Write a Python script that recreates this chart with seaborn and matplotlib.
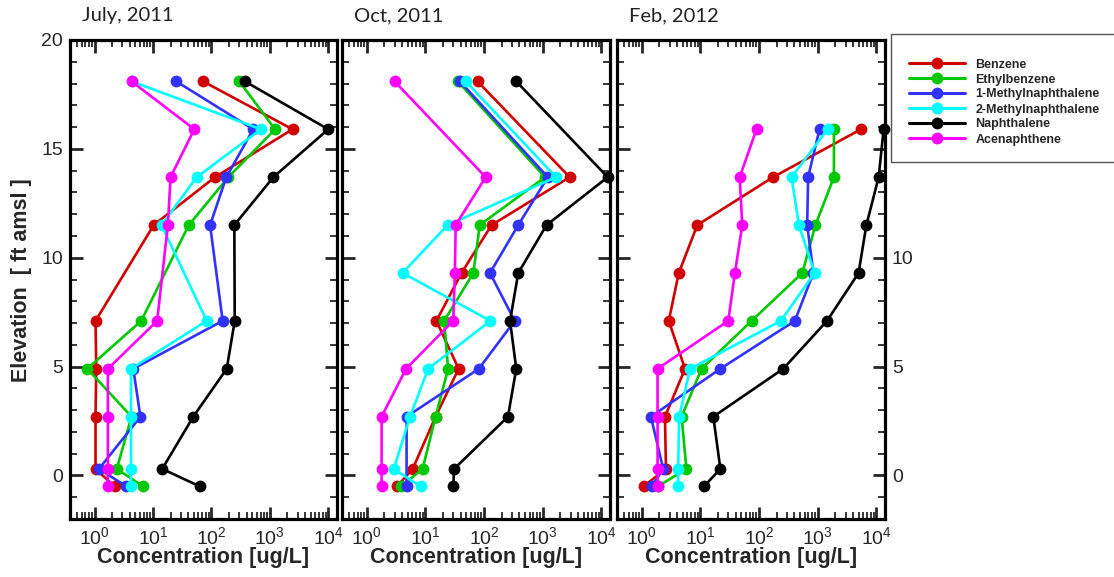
import numpy as np
import pandas as pd
import matplotlib
matplotlib.use("Agg")
import matplotlib.pyplot as plt
from matplotlib.lines import Line2D
from matplotlib.patches import Rectangle
from matplotlib.ticker import (LogLocator, LogFormatterMathtext, MultipleLocator,
                               NullFormatter, FuncFormatter)
import seaborn as sns

# ---- data -------------------------------------------------------------
compounds = ["Benzene", "Ethylbenzene", "1-Methylnaphthalene",
             "2-Methylnaphthalene", "Naphthalene", "Acenaphthene"]
colors = ["#D00000", "#00C800", "#3232FF", "#00FFFF", "#000000", "#FF00FF"]

panel_titles = ["July, 2011", "Oct, 2011", "Feb, 2012"]

# sampling elevations (ft amsl), top to bottom
elev_jul = [18.1, 15.9, 13.7, 11.5, 7.1, 4.9, 2.7, 0.3, -0.5]
elev_oct = [18.1, 13.7, 11.5, 9.3, 7.1, 4.9, 2.7, 0.3, -0.5]
elev_feb = [15.9, 13.7, 11.5, 9.3, 7.1, 4.9, 2.7, 0.3, -0.5]

# concentrations (ug/L); NaN = no sample
jul_benzene      = [72, 2450, 115, 10.3, 1.04, 1.07, 1.04, 1.04, 2.2]
jul_ethylbenzene = [300, 1230, 195, 41, 6.3, 0.75, 4.3, 2.4, 6.8]
jul_1mn          = [25, 520, 180, 95, 156, 4.6, 6.1, 1.19, 3.5]
jul_2mn          = [4.3, 705, 56, 14, 83, 4.2, 4.2, 4.2, 4.2]
jul_naph         = [375, 10000, 1150, 247, 251, 183, 49, 14.4, 63]
jul_acen         = [4.3, 51, 20, 18, 11.8, 1.69, 1.69, 1.69, 1.69]

oct_benzene      = [78, 2900, 135, 41.5, 15.5, 37, 15, 6.1, 3.3]
oct_ethylbenzene = [36, 1100, 85, 66, 21, 24.5, 15, 9.0, 3.9]
oct_1mn          = [39, 1230, 385, 127, 334, 82, 4.8, np.nan, 4.8]
oct_2mn          = [49, 1700, 24, 4.1, 129, 11.2, 5.5, 2.9, 8.3]
oct_naph         = [356, 12900, 1170, 385, 279, 356, 257, 31, 30]
oct_acen         = [3.0, 107, 33, 32, 30, 4.7, 1.8, 1.8, 1.8]

feb_benzene      = [5500, 174, 8.9, 4.3, 2.9, 5.5, 2.5, 2.6, 1.08]
feb_ethylbenzene = [1900, 1900, 920, 550, 75, 10.5, 4.8, 5.8, 1.9]
feb_1mn          = [1080, 690, 665, 850, 410, 22, 1.44, 2.33, 1.5]
feb_2mn          = [1480, 360, 480, 890, 237, 6.7, 4.36, 4.2, 4.2]
feb_naph         = [13400, 11000, 6800, 5000, 1450, 260, 16.7, 22, 11.6]
feb_acen         = [91, 47, 52, 39, 30, 1.87, 1.87, 1.87, 1.87]

campaigns = [
    (elev_jul, [jul_benzene, jul_ethylbenzene, jul_1mn, jul_2mn, jul_naph, jul_acen]),
    (elev_oct, [oct_benzene, oct_ethylbenzene, oct_1mn, oct_2mn, oct_naph, oct_acen]),
    (elev_feb, [feb_benzene, feb_ethylbenzene, feb_1mn, feb_2mn, feb_naph, feb_acen]),
]


def long_table(elev, series):
    rows = []
    for name, vals in zip(compounds, series):
        for z, c in zip(elev, vals):
            if not np.isnan(c):
                rows.append({"compound": name, "elev": z, "conc": c})
    return pd.DataFrame(rows)


# ---- style ------------------------------------------------------------
sns.set_style("ticks")
plt.rcParams["font.family"] = ["Liberation Sans", "DejaVu Sans"]
plt.rcParams["mathtext.fontset"] = "custom"
plt.rcParams["mathtext.rm"] = "Liberation Sans"
plt.rcParams["mathtext.it"] = "Liberation Sans:italic"
plt.rcParams["mathtext.bf"] = "Liberation Sans:bold"

W, H = 1114, 577
fig = plt.figure(figsize=(W / 100, H / 100), dpi=100)

# axes boxes in pixel units: (left, right)
boxes = [(70, 337), (342, 610), (617, 885)]
top_px, bot_px = 40, 519

axes = []
for i, ((l, r), (elev, series)) in enumerate(zip(boxes, campaigns)):
    ax = fig.add_axes([l / W, 1 - bot_px / H, (r - l) / W, (bot_px - top_px) / H])
    ax.set_xscale("log")
    df = long_table(elev, series)
    sns.lineplot(data=df, x="conc", y="elev", hue="compound",
                 hue_order=compounds, palette=colors, sort=False,
                 estimator=None, marker="o", markersize=8.5,
                 markeredgewidth=0, linewidth=1.9, legend=False,
                 clip_on=False, ax=ax)
    for ln in ax.lines:
        ln.set_markeredgecolor(ln.get_color())
        ln.set_markerfacecolor(ln.get_color())

    ax.set_xlim(10 ** -0.42, 10 ** 4.15)
    ax.set_ylim(-2, 20)
    ax.xaxis.set_major_locator(LogLocator(base=10, numticks=12))
    ax.xaxis.set_minor_locator(LogLocator(base=10, subs=np.arange(2, 10), numticks=12))
    ax.xaxis.set_major_formatter(LogFormatterMathtext())
    ax.xaxis.set_minor_formatter(NullFormatter())
    ax.yaxis.set_major_locator(MultipleLocator(5))
    ax.yaxis.set_minor_locator(MultipleLocator(1))

    ax.tick_params(which="both", direction="in", top=True, right=True,
                   labelsize=14, pad=5)
    ax.tick_params(which="major", length=9, width=2)
    ax.tick_params(which="minor", length=5, width=1.3)
    for sp in ax.spines.values():
        sp.set_linewidth(2.3)
        sp.set_color("black")

    ax.set_xlabel("")
    ax.set_ylabel("")
    if i == 0:
        ax.tick_params(axis="y", labelleft=True, labelright=False)
    elif i == 1:
        ax.tick_params(axis="y", labelleft=False, labelright=False)
    else:
        ax.tick_params(axis="y", labelleft=False, labelright=True)
        # upper labels on this side sit behind the legend box
        ax.yaxis.set_major_formatter(
            FuncFormatter(lambda v, p: f"{v:g}" if v <= 10 else ""))

    fig.text((l + r) / 2 / W, 1 - 563 / H, "Concentration [ug/L]",
             ha="center", va="baseline", fontsize=15.5, fontweight="bold")
    fig.text((l + 12) / W, 1 - 21 / H, panel_titles[i], ha="left",
             va="baseline", fontsize=14.5, family=["Lato", "DejaVu Sans"],
             color="#222222")
    axes.append(ax)

fig.text(22 / W, 1 - 280 / H, "Elevation  [ ft amsl ]", rotation=90,
         ha="center", va="center", fontsize=15.5, fontweight="bold")

# legend with a box running off the right edge
fig.patches.append(Rectangle((891 / W, 1 - 162 / H), 240 / W, 128 / H,
                             transform=fig.transFigure, facecolor="white",
                             edgecolor="#555555", linewidth=1.0, zorder=5))
handles = [Line2D([], [], color=c, marker="o", markersize=8.5, linewidth=2.2,
                  markeredgewidth=0) for c in colors]
leg = fig.legend(handles, compounds, loc="upper left",
                 bbox_to_anchor=(909 / W, 1 - 58.5 / H), frameon=False,
                 prop={"weight": "bold", "size": 9}, handlelength=4.5,
                 handletextpad=0.8, labelspacing=0.24, borderpad=0,
                 borderaxespad=0)
leg.set_zorder(6)

fig.savefig("out.png", dpi=100)
